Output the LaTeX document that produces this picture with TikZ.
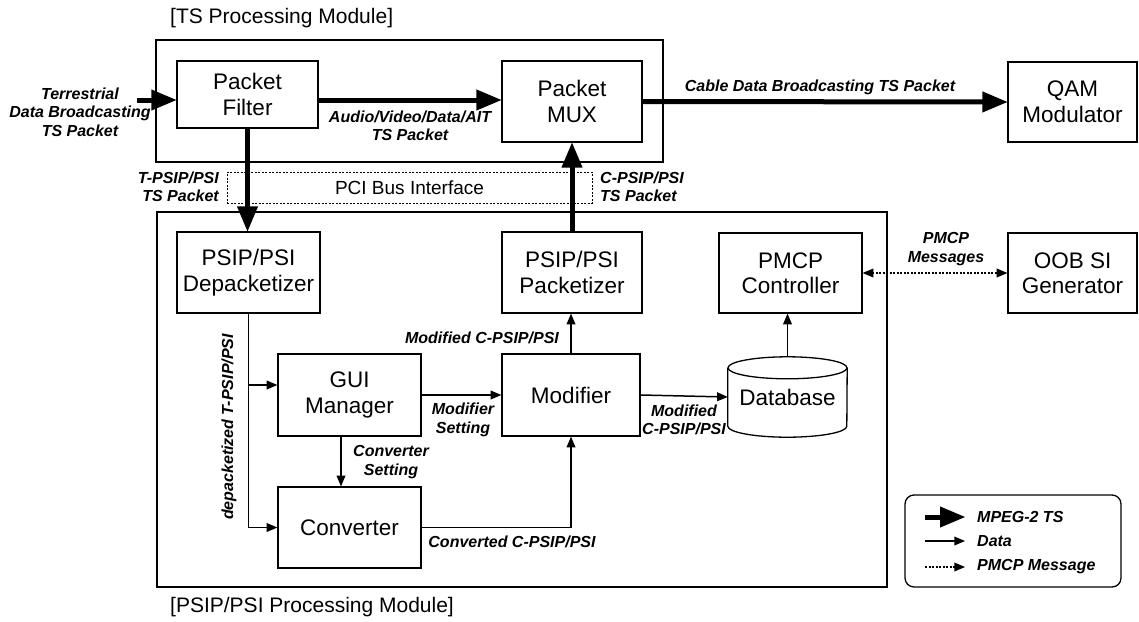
\documentclass[tikz,border=0pt]{standalone}
\usepackage{fontspec}
\setmainfont{Liberation Sans}
\usepackage{tikz}
\usetikzlibrary{arrows}
\usetikzlibrary{calc}

\begin{document}
\begin{tikzpicture}[line cap=butt,line join=miter,>=triangle 45,x=1pt,y=-1pt]
\useasboundingbox (0,0) rectangle (1139,621);
\tikzstyle{blk}=[draw,line width=1.3pt,inner sep=0pt,align=center,font=\fontsize{22.5}{25.5}\selectfont]
\tikzstyle{frame}=[draw,line width=1.3pt,inner sep=0pt]
\tikzstyle{lbl}=[inner sep=0pt,align=center,font=\fontsize{16}{18.5}\selectfont\bfseries\itshape]
\tikzstyle{tsarrow}=[->,line width=5pt]
\tikzstyle{dataarrow}=[->,line width=1.5pt]
\tikzstyle{pmcparrow}=[<->,line width=1.5pt,dash pattern=on 2pt off 1.5pt]
% module frames
\node[frame,minimum width=507,minimum height=122] (tsmod) at (409.5,101) {};
\node[frame,minimum width=730,minimum height=375] (psimod) at (522,399.5) {};
\node[anchor=west,inner sep=0pt,font=\fontsize{21}{24}\selectfont] (tstitle) at (170,18) {[TS Processing Module]};
\node[anchor=west,inner sep=0pt,font=\fontsize{21}{24}\selectfont] (psititle) at (170,607) {[PSIP/PSI Processing Module]};
\node[draw,line width=1pt,dash pattern=on 2pt off 1.5pt,minimum width=365,minimum height=31,inner sep=0pt,font=\fontsize{19}{22}\selectfont] (pci) at (409.5,187.5) {PCI Bus Interface};
% blocks
\node[blk,minimum width=141,minimum height=67] (filter) at (247.5,94.5) {Packet\\Filter};
\node[blk,minimum width=140,minimum height=81] (mux) at (572,101.5) {Packet\\MUX};
\node[blk,minimum width=129,minimum height=80] (qam) at (1072.5,102) {QAM\\Modulator};
\node[blk,minimum width=143,minimum height=81] (depack) at (248.5,272.5) {PSIP/PSI\\Depacketizer};
\node[blk,minimum width=140,minimum height=81] (pack) at (572,272.5) {PSIP/PSI\\Packetizer};
\node[blk,minimum width=143,minimum height=80] (pmcp) at (790.5,273) {PMCP\\Controller};
\node[blk,minimum width=129,minimum height=80] (oob) at (1072.5,273) {OOB SI\\Generator};
\node[blk,minimum width=143,minimum height=82] (gui) at (349.5,395) {GUI\\Manager};
\node[blk,minimum width=143,minimum height=81] (conv) at (349.5,527.5) {Converter};
\node[blk,minimum width=138,minimum height=82] (modif) at (571,395) {Modifier};
\node[inner sep=0pt,minimum width=119,minimum height=80,font=\fontsize{22.5}{25.5}\selectfont] (db) at (787.5,397) {Database};
\draw[line width=1.3pt] ([yshift=-11pt]db.north west) -- ([yshift=11pt]db.south west)
  arc[start angle=180,end angle=360,x radius=59.5pt,y radius=11pt] -- ([yshift=-11pt]db.north east);
\draw[line width=1.3pt] ([yshift=-11pt]db.north) ellipse [x radius=59.5pt,y radius=11pt];
% MPEG-2 TS paths
\coordinate (inp) at (137,100);
\coordinate (tsline) at (0,100);
\draw[tsarrow] (inp) -- (filter.west |- tsline);
\draw[tsarrow] (filter.east |- tsline) -- (mux.west |- tsline);
\draw[tsarrow] (mux.east) -- (qam.west);
\draw[tsarrow] (filter.south) -- (filter.south |- depack.north);
\draw[tsarrow] (pack.north) -- (mux.south);
% data paths
\draw[dataarrow] (depack.south) |- (conv.west);
\draw[dataarrow] ([yshift=10pt]gui.west -| depack.south) -- ([yshift=10pt]gui.west);
\draw[dataarrow] (gui.east) -- (modif.west);
\draw[dataarrow] ([xshift=-8.5pt]gui.south) -- ([xshift=-8.5pt]gui.south |- conv.north);
\draw[dataarrow] (conv.east) -| (modif.south);
\draw[dataarrow] (modif.north) -- (modif.north |- pack.south);
\draw[dataarrow] (modif.east) -- (db.west);
\draw[dataarrow] (db.north) -- (db.north |- pmcp.south);
\draw[pmcparrow] (pmcp.east) -- (oob.west);
% labels
\node[lbl] (l-terr) at (80,112) {Terrestrial\\Data Broadcasting\\TS Packet};
\node[lbl] (l-avd) at (410,126) {Audio/Video/Data/AIT\\TS Packet};
\node[lbl] (l-cable) at (820,87) {Cable Data Broadcasting TS Packet};
\node[lbl,anchor=east,align=right] (l-tpsip) at (219,187) {T-PSIP/PSI\\TS Packet};
\node[lbl,anchor=west,align=left] (l-cpsip) at (600,187) {C-PSIP/PSI\\TS Packet};
\node[lbl,rotate=90] (l-depack) at (229,427) {depacketized T-PSIP/PSI};
\node[lbl] (l-modset) at (463,420) {Modifier\\Setting};
\node[lbl] (l-convset) at (391,462) {Converter\\Setting};
\node[lbl] (l-conv) at (512,542) {Converted C-PSIP/PSI};
\node[lbl] (l-modif) at (482,338) {Modified C-PSIP/PSI};
\node[lbl] (l-moddb) at (684,420) {Modified\\C-PSIP/PSI};
\node[lbl] (l-pmcp) at (946,249) {PMCP\\Messages};
% legend
\node[draw,line width=1.3pt,rounded corners=9pt,minimum width=216,minimum height=92,inner sep=0pt] (legend) at (1013,541) {};
\coordinate (lg1a) at (925,517); \coordinate (lg1b) at (965,517);
\coordinate (lg2a) at (925,541); \coordinate (lg2b) at (965,541);
\coordinate (lg3a) at (925,567); \coordinate (lg3b) at (965,567);
\draw[tsarrow] (lg1a) -- (lg1b);
\draw[dataarrow] (lg2a) -- (lg2b);
\draw[->,line width=1.5pt,dash pattern=on 2pt off 1.5pt] (lg3a) -- (lg3b);
\node[lbl,anchor=west] (lg-ts) at (977,517) {MPEG-2 TS};
\node[lbl,anchor=west] (lg-data) at (977,541) {Data};
\node[lbl,anchor=west] (lg-pmcp) at (977,567) {PMCP Message};
\end{tikzpicture}
\end{document}
